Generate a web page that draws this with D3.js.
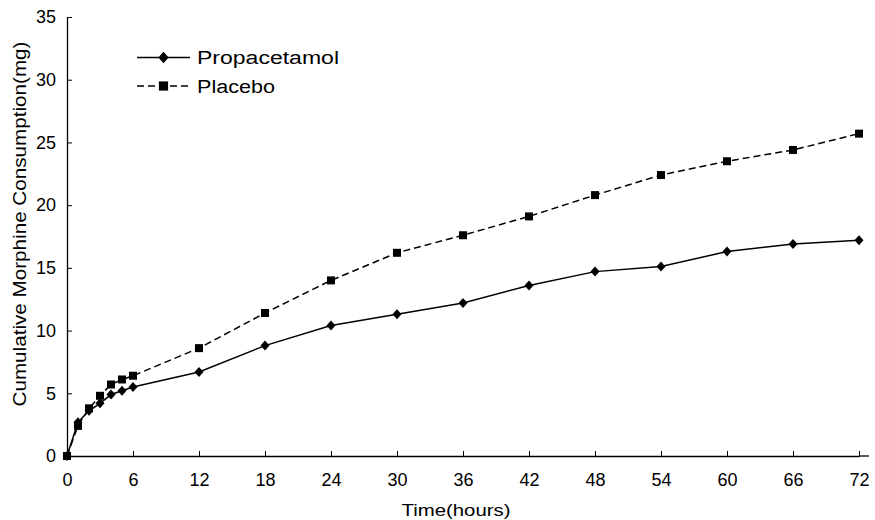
<!DOCTYPE html>
<html>
<head>
<meta charset="utf-8">
<script src="https://cdn.jsdelivr.net/npm/d3@7/dist/d3.min.js"></script>
<style>
  html, body { margin: 0; padding: 0; background: #fff; }
  svg { display: block; }
  text { font-family: "Liberation Sans", Arial, sans-serif; fill: #000; }
</style>
</head>
<body>
<svg id="chart" width="875" height="520"></svg>
<script>
const hours = [0, 1, 2, 3, 4, 5, 6, 12, 18, 24, 30, 36, 42, 48, 54, 60, 66, 72];
const propacetamol = [0, 2.7, 3.6, 4.2, 4.9, 5.2, 5.5, 6.7, 8.8, 10.4, 11.3, 12.2, 13.6, 14.7, 15.1, 16.3, 16.9, 17.2];
const placebo = [0, 2.4, 3.8, 4.8, 5.7, 6.1, 6.4, 8.6, 11.4, 14.0, 16.2, 17.6, 19.1, 20.8, 22.4, 23.5, 24.4, 25.7];
const xTicks = [0, 6, 12, 18, 24, 30, 36, 42, 48, 54, 60, 66, 72];
const yTicks = [0, 5, 10, 15, 20, 25, 30, 35];
const seriesNames = ["Propacetamol", "Placebo"];
const xTitle = "Time(hours)";
const yTitle = "Cumulative Morphine Consumption(mg)";

const svg = d3.select("#chart");
const x = d3.scaleLinear().domain([0, 72]).range([67, 859]);
const y = d3.scaleLinear().domain([0, 35]).range([456, 17]);

// axes
const xAxis = d3.axisBottom(x).tickValues(xTicks).tickSizeInner(-5).tickSizeOuter(0).tickPadding(17);
const gx = svg.append("g").attr("transform", "translate(0,456)").call(xAxis);
gx.selectAll("text").attr("font-size", 18).attr("font-family", "Liberation Sans, Arial, sans-serif");
gx.select(".domain").attr("stroke-width", 1.3);
gx.append("line").attr("x1", x(72)).attr("x2", x(72) + 10).attr("y1", 0).attr("y2", 0).attr("stroke", "#000").attr("stroke-width", 1.3);

const yAxis = d3.axisLeft(y).tickValues(yTicks).tickSizeInner(-5).tickSizeOuter(0).tickPadding(11);
const gy = svg.append("g").attr("transform", "translate(67,0)").call(yAxis);
gy.selectAll("text").attr("font-size", 18).attr("font-family", "Liberation Sans, Arial, sans-serif");
gy.select(".domain").attr("stroke-width", 1.3);
gy.selectAll(".tick").filter(d => d === 0).select("line").remove();
gx.selectAll(".tick").filter(d => d === 0).select("line").remove();

// titles
svg.append("text").attr("x", 456).attr("y", 516).attr("text-anchor", "middle")
  .attr("font-size", 17).attr("textLength", 109).attr("lengthAdjust", "spacingAndGlyphs").text(xTitle);
svg.append("text").attr("transform", "translate(26,224) rotate(-90)").attr("text-anchor", "middle")
  .attr("font-size", 18).attr("textLength", 365).attr("lengthAdjust", "spacingAndGlyphs").text(yTitle);

// lines
const line = d3.line().x((d, i) => x(hours[i])).y(d => y(d));
svg.append("path").datum(placebo).attr("d", line).attr("fill", "none").attr("stroke", "#000")
  .attr("stroke-width", 1.5).attr("stroke-dasharray", "7,4");
svg.append("path").datum(propacetamol).attr("d", line).attr("fill", "none").attr("stroke", "#000")
  .attr("stroke-width", 1.5);

const diamond = "M0,-5L4.5,0L0,5L-4.5,0Z";
const square = "M-4,-4H4V4H-4Z";

svg.append("g").selectAll("path").data(placebo).join("path")
  .attr("d", square).attr("fill", "#000")
  .attr("transform", (d, i) => `translate(${x(hours[i])},${y(d)})`);
svg.append("g").selectAll("path").data(propacetamol).join("path")
  .attr("d", diamond).attr("fill", "#000")
  .attr("transform", (d, i) => `translate(${x(hours[i])},${y(d)})`);

// legend
const leg = [
  { name: seriesNames[0], y: 57.5, dash: null, shape: diamond, len: 142 },
  { name: seriesNames[1], y: 86, dash: "7,4", shape: square, len: 78 }
];
leg.forEach(l => {
  svg.append("line").attr("x1", 137).attr("x2", 190).attr("y1", l.y).attr("y2", l.y)
    .attr("stroke", "#000").attr("stroke-width", 1.5).attr("stroke-dasharray", l.dash);
  svg.append("path").attr("d", l.shape).attr("fill", "#000").attr("transform", `translate(163.5,${l.y}) scale(1.15)`);
  svg.append("text").attr("x", 197).attr("y", l.y + 6.5).attr("font-size", 18)
    .attr("textLength", l.len).attr("lengthAdjust", "spacingAndGlyphs").text(l.name);
});
</script>
</body>
</html>
